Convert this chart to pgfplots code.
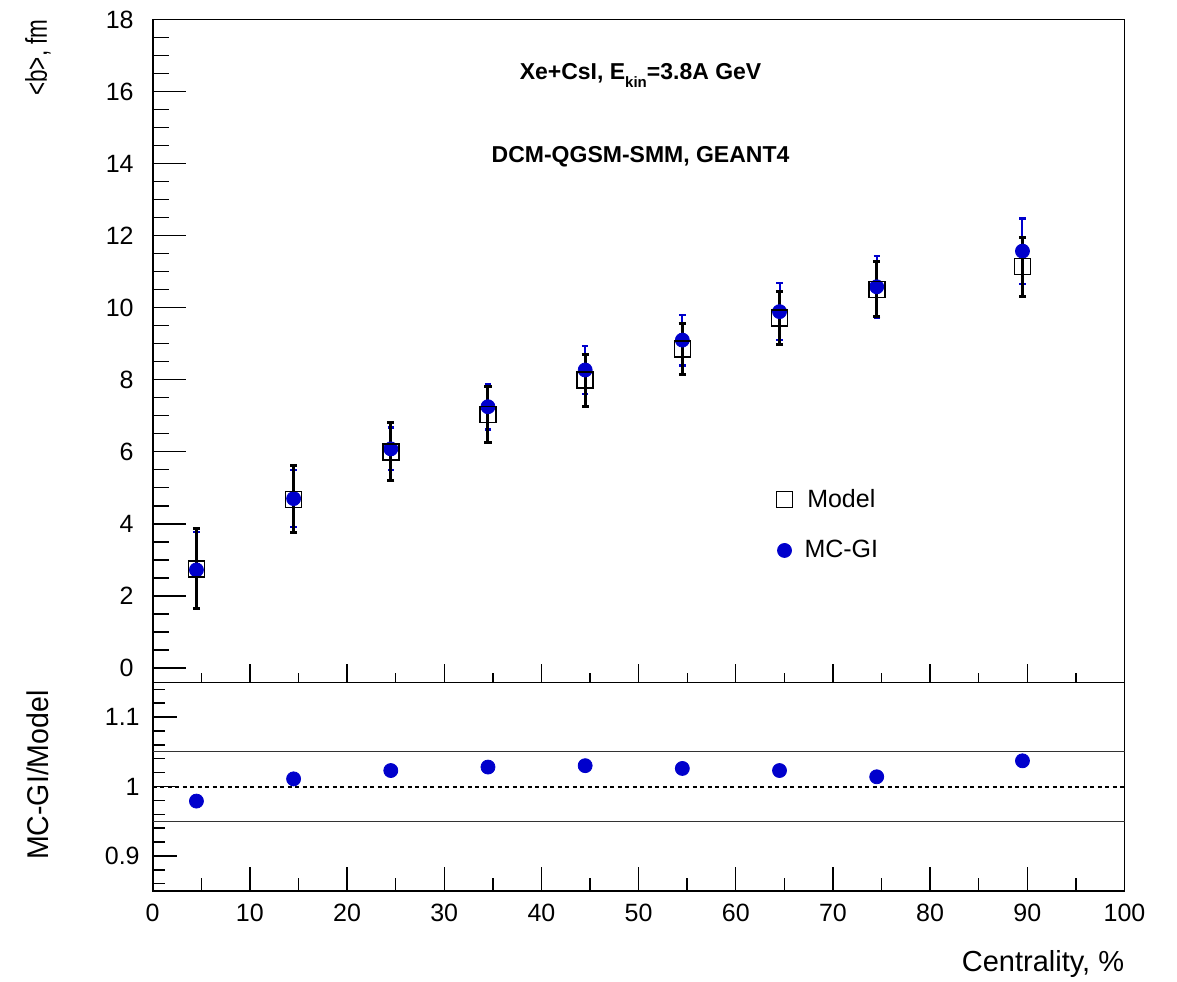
\documentclass[border=0pt]{standalone}
\usepackage{pgfplots}
\pgfplotsset{compat=1.18}
\usepackage{pgfplotstable}
\usepackage{fontspec}
\setmainfont{Liberation Sans}
\definecolor{rootblue}{RGB}{0,0,204}

% <b> vs centrality, model (open squares) and MC-GI (blue circles)
\pgfplotstableread{
x    y     ey
4.5  2.75  1.11
14.5 4.68  0.93
24.5 6.00  0.81
34.5 7.04  0.77
44.5 7.99  0.72
54.5 8.85  0.71
64.5 9.72  0.74
74.5 10.51 0.76
89.5 11.14 0.82
}\modeltab
\pgfplotstableread{
x    y     ey
4.5  2.72  1.05
14.5 4.70  0.79
24.5 6.08  0.59
34.5 7.25  0.63
44.5 8.27  0.66
54.5 9.10  0.70
64.5 9.89  0.79
74.5 10.58 0.86
89.5 11.57 0.91
}\mcgitab
\pgfplotstableread{
x    r
4.5  0.979
14.5 1.011
24.5 1.023
34.5 1.028
44.5 1.030
54.5 1.026
64.5 1.023
74.5 1.014
89.5 1.037
}\ratiotab

\pgfplotsset{
  rootpad/.style={
    scale only axis, anchor=north west, width=485.9pt,
    xmin=0, xmax=100,
    tick align=inside,
    axis line style={line width=0.8pt, black},
    every tick/.style={black, line width=0.7pt},
    /pgf/number format/assume math mode=true,
    tick label style={font=\fontsize{12.5}{14}\selectfont},
  },
}

\begin{document}
\begin{tikzpicture}
\path[use as bounding box] (0,0) rectangle (588.5pt,-490.5pt);

% ---- top pad: frame, y ticks, data
\begin{axis}[rootpad, at={(76.35pt,-9.75pt)}, height=331.4pt,
  ymin=-0.4, ymax=18,
  ytick={0,2,...,18}, minor ytick={0.5,1,...,17.5},
  xtick=\empty, ytick pos=left,
  major tick length=16.5pt, minor tick length=8pt,
  yticklabel style={xshift=-6pt},
  legend style={draw=none, fill=none, at={(axis cs:64.15,3.97)}, anchor=west,
    font=\fontsize{12.5}{14}\selectfont, row sep=11pt, inner sep=0pt},
]
\addplot[rootblue, only marks, mark=*, mark size=3.5pt, forget plot,
  error bars/.cd, y dir=both, y explicit,
  error bar style={line width=1pt, rootblue},
  error mark options={rotate=90, mark size=1.6pt, line width=1.2pt, rootblue}]
  table[x=x, y=y, y error=ey] {\mcgitab};
\addplot[black, only marks, mark=square, mark size=4pt, forget plot,
  mark options={line width=0.8pt},
  error bars/.cd, y dir=both, y explicit,
  error bar style={line width=1.5pt, black},
  error mark options={rotate=90, mark size=1.8pt, line width=1.5pt, black}]
  table[x=x, y=y, y error=ey] {\modeltab};
\addlegendimage{black, only marks, mark=square, mark size=4pt, mark options={line width=0.8pt}}
\addlegendentry{\hspace{4pt}Model}
\addlegendimage{rootblue, only marks, mark=*, mark size=3.5pt}
\addlegendentry{\hspace{4pt}MC-GI}
\node[font=\bfseries\fontsize{11.5}{13}\selectfont] at (axis cs:50.2,16.45)
  {Xe+CsI, E\raisebox{-4pt}{\fontsize{7.5}{8}\selectfont kin}=3.8A GeV};
\node[font=\bfseries\fontsize{11.5}{13}\selectfont] at (axis cs:50.2,14.2)
  {DCM-QGSM-SMM, GEANT4};
\end{axis}

% ---- top pad: x ticks only
\begin{axis}[rootpad, at={(76.35pt,-9.75pt)}, height=331.4pt,
  ymin=-0.4, ymax=18, axis line style={draw=none},
  ytick=\empty, xtick={0,10,...,100}, minor xtick={5,15,...,95},
  xticklabels=\empty, xtick pos=bottom,
  major tick length=9pt, minor tick length=4.5pt,
]
\end{axis}

% ---- bottom pad: frame, y ticks, ratio
\begin{axis}[rootpad, at={(76.35pt,-341.15pt)}, height=104.2pt,
  ymin=0.85, ymax=1.15,
  ytick={0.9,1,1.1}, yticklabels={0.9,1,1.1},
  minor ytick={0.86,0.88,0.92,0.94,0.96,0.98,1.02,1.04,1.06,1.08,1.12,1.14},
  xtick=\empty, ytick pos=left,
  major tick length=12pt, minor tick length=6pt,
  yticklabel style={xshift=-3pt},
]
\addplot[black!80, line width=0.6pt] coordinates {(0,1.05) (100,1.05)};
\addplot[black!80, line width=0.6pt] coordinates {(0,0.95) (100,0.95)};
\addplot[black, line width=1pt, dash pattern=on 2pt off 1.75pt] coordinates {(0,1) (100,1)};
\addplot[rootblue, only marks, mark=*, mark size=3.5pt] table[x=x, y=r] {\ratiotab};
\end{axis}

% ---- bottom pad: x ticks and labels
\begin{axis}[rootpad, at={(76.35pt,-341.15pt)}, height=104.2pt,
  ymin=0.85, ymax=1.15, axis line style={draw=none},
  ytick=\empty, xtick={0,10,...,100}, minor xtick={5,15,...,95},
  xtick pos=bottom,
  major tick length=12pt, minor tick length=6.5pt,
  xticklabel style={yshift=-3pt},
]
\end{axis}

% axis titles
\node[rotate=90, anchor=east, inner sep=0pt]
  at (19pt,-9.5pt) {\scalebox{0.75}[1]{\fontsize{15}{17}\selectfont <b>, fm}};
\node[rotate=90, anchor=east, inner sep=0pt]
  at (19pt,-345pt) {\scalebox{0.95}[1]{\fontsize{15}{17}\selectfont MC-GI/Model}};
\node[anchor=north east, inner sep=0pt, font=\fontsize{14.5}{16}\selectfont]
  at (562.25pt,-475pt) {Centrality, \%};
\end{tikzpicture}
\end{document}
